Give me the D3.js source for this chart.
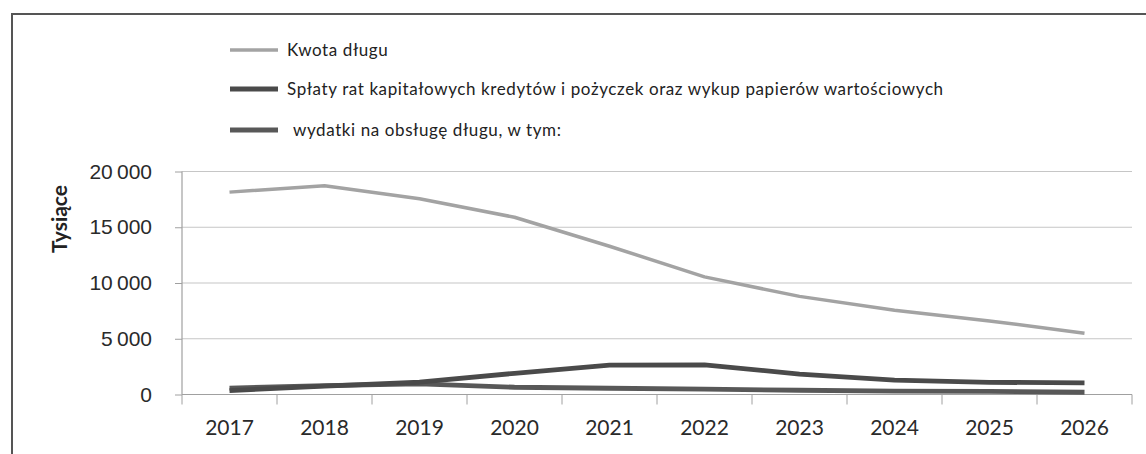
<!DOCTYPE html>
<html>
<head>
<meta charset="utf-8">
<script src="https://cdn.jsdelivr.net/npm/d3@7"></script>
<style>
  html, body { margin: 0; padding: 0; background: #fff; overflow: hidden; }
  svg { display: block; font-family: Lato, "Open Sans", sans-serif; }
</style>
</head>
<body>
<div id="chart"></div>
<script>
// categories and series (thousands)
var years = ["2017", "2018", "2019", "2020", "2021", "2022", "2023", "2024", "2025", "2026"];
var kwotaDlugu = [18150, 18730, 17550, 15900, 13300, 10550, 8800, 7550, 6600, 5500];
var splatyRat = [350, 750, 1100, 1900, 2630, 2660, 1830, 1290, 1090, 1050];
var wydatkiObsluga = [580, 800, 950, 650, 560, 490, 380, 310, 280, 200];
var yTicks = [0, 5000, 10000, 15000, 20000];
var seriesNames = [
  "Kwota długu",
  "Spłaty rat kapitałowych kredytów i pożyczek oraz wykup papierów wartościowych",
  "wydatki na obsługę długu, w tym:"
];
var seriesColors = ["#a3a3a3", "#4a4a4a", "#585858"];

var W = 1146, H = 454;
var margin = {top: 171.5, left: 182},
    width = 1132 - margin.left,
    height = 394.5 - margin.top;

var svg = d3.select("#chart")
  .append("svg")
    .attr("width", W)
    .attr("height", H);

// outer frame: only the left and top edges are in view
svg.append("line")
  .attr("x1", 12).attr("x2", 12)
  .attr("y1", 13).attr("y2", H)
  .attr("stroke", "#555").attr("stroke-width", 2);
svg.append("line")
  .attr("x1", 11).attr("x2", W)
  .attr("y1", 14).attr("y2", 14)
  .attr("stroke", "#555").attr("stroke-width", 2);

var g = svg.append("g")
  .attr("transform", "translate(" + margin.left + "," + margin.top + ")");

var x = d3.scaleBand()
  .domain(years)
  .range([0, width]);

var y = d3.scaleLinear()
  .domain([0, 20000])
  .range([height, 0]);

// gridlines
g.append("g")
  .selectAll("line")
  .data(yTicks.filter(function(d) { return d > 0; }))
  .enter()
  .append("line")
    .attr("x1", 0).attr("x2", width)
    .attr("y1", function(d) { return y(d); })
    .attr("y2", function(d) { return y(d); })
    .attr("stroke", "#c6c6c6")
    .attr("stroke-width", 1.2);

// y axis
var yAxis = g.append("g")
  .call(d3.axisLeft(y).tickValues(yTicks).tickSize(7).tickFormat(function(d) { return d3.format(",")(d).replace(/,/g, "\u2009"); }));
yAxis.select(".domain").attr("stroke", "#a0a0a0").attr("stroke-width", 1.2).attr("d", "M0,0V" + height);
yAxis.selectAll(".tick line").attr("stroke", "#a0a0a0");
yAxis.selectAll(".tick text")
  .attr("x", -30)
  .attr("fill", "#2a2a2a")
  .style("font-size", "21px");

// x axis with ticks on category boundaries
var xAxis = g.append("g")
  .attr("transform", "translate(0," + height + ")");
xAxis.append("line")
  .attr("x1", 0).attr("x2", width)
  .attr("stroke", "#a0a0a0").attr("stroke-width", 1.2);
xAxis.selectAll(".bnd")
  .data(years.concat(["end"]))
  .enter()
  .append("line")
    .attr("class", "bnd")
    .attr("x1", function(d, i) { return i * x.step(); })
    .attr("x2", function(d, i) { return i * x.step(); })
    .attr("y1", 0).attr("y2", 10)
    .attr("stroke", "#a0a0a0");
xAxis.selectAll("text")
  .data(years)
  .enter()
  .append("text")
    .attr("x", function(d) { return x(d) + x.bandwidth() / 2; })
    .attr("y", 40)
    .attr("text-anchor", "middle")
    .attr("fill", "#2a2a2a")
    .style("font-size", "21px")
    .text(function(d) { return d; });

// y title
svg.append("text")
  .attr("transform", "translate(67,219) rotate(-90)")
  .attr("text-anchor", "middle")
  .attr("fill", "#222")
  .style("font-size", "21px")
  .style("font-weight", "bold")
  .text("Tysiące");

// lines
var line = d3.line()
  .x(function(d, i) { return x(years[i]) + x.bandwidth() / 2; })
  .y(function(d) { return y(d); });

var allSeries = [kwotaDlugu, splatyRat, wydatkiObsluga];
var widths = [3.5, 4.8, 4.8];

[2, 1, 0].forEach(function(k) {
  g.append("path")
    .datum(allSeries[k])
    .attr("fill", "none")
    .attr("stroke", seriesColors[k])
    .attr("stroke-width", widths[k])
    .attr("stroke-linejoin", "round")
    .attr("d", line);
});

// legend
var legend = svg.append("g");
var legendY = [50, 89, 130];
seriesNames.forEach(function(name, i) {
  legend.append("line")
    .attr("x1", 230).attr("x2", 278)
    .attr("y1", legendY[i]).attr("y2", legendY[i])
    .attr("stroke", seriesColors[i])
    .attr("stroke-width", widths[i]);
  legend.append("text")
    .attr("x", i == 2 ? 293 : 287)
    .attr("y", legendY[i])
    .attr("dy", "0.35em")
    .attr("fill", "#222")
    .style("font-size", "17px")
    .style("letter-spacing", "0.6px")
    .text(name);
});
</script>
</body>
</html>
